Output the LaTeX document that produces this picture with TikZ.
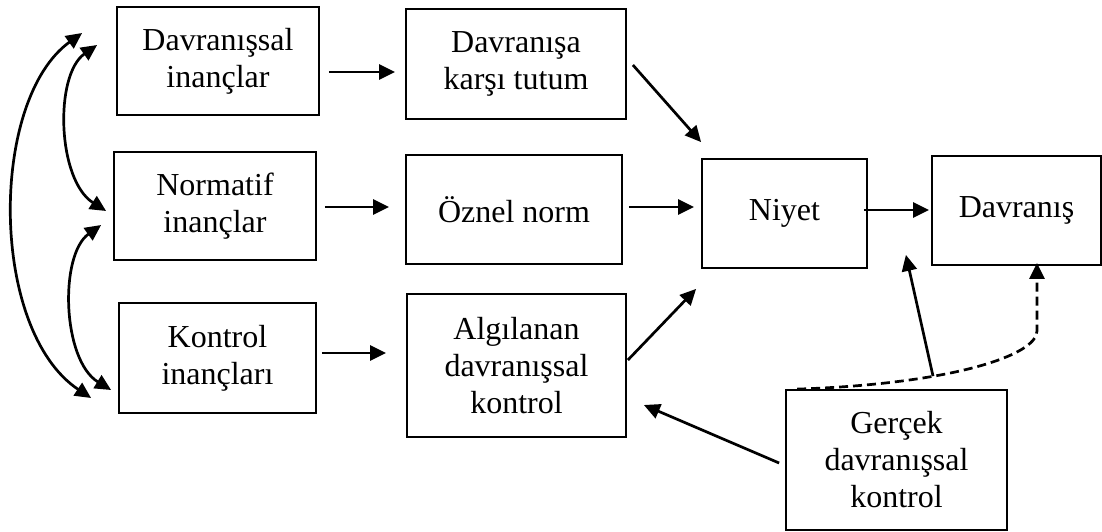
\documentclass[tikz,border=0pt]{standalone}
\usepackage{fontspec}
\setmainfont{Liberation Serif}
\usetikzlibrary{arrows.meta,calc}

\begin{document}
\begin{tikzpicture}[x=1pt, y=-1pt,
  box/.style={draw, line width=1.8pt, inner sep=0pt, align=center,
              font=\fontsize{32}{37}\selectfont},
  arr/.style={line width=2.7pt, -{Triangle[length=16pt,width=15pt]}},
  biarr/.style={line width=2.7pt,
                {Triangle[length=16pt,width=15pt]}-{Triangle[length=16pt,width=15pt]}},
  dasharr/.style={arr, dash pattern=on 9pt off 5pt}]

  \useasboundingbox (0,0) rectangle (1102,531);

  % belief boxes (left column)
  \node[box, minimum width=202pt, minimum height=108pt] (b1) at (218,61) {Davranışsal\\inançlar};
  \node[box, minimum width=202pt, minimum height=108pt] (n1) at (215,206) {Normatif\\inançlar};
  \node[box, minimum width=197pt, minimum height=110pt] (k1) at (217.5,358) {Kontrol\\inançları};

  % derived constructs (middle column)
  \node[box, minimum width=220pt, minimum height=110pt] (b2) at (516,64) {Davranışa\\karşı tutum};
  \node[box, minimum width=216pt, minimum height=109pt] (n2) at (514,209.5) {Öznel norm};
  \node[box, minimum width=219pt, minimum height=143pt] (k2) at (516.5,365.5) {Algılanan\\davranışsal\\kontrol};

  % intention, behaviour, actual control
  \node[box, minimum width=165pt, minimum height=109pt] (niyet) at (784.5,213.5) {Niyet};
  \node[box, minimum width=169pt, minimum height=109pt] (dav) at (1016.5,210.5) {Davranış};
  \node[box, minimum width=221pt, minimum height=140pt] (ger) at (896.5,460) {Gerçek\\davranışsal\\kontrol};

  % correlations between the belief sets
  \draw[biarr] ($(b1.west)+(-34,-28)$) .. controls +(-93,67) and +(-102,-68) .. ($(k1.west)+(-27,40)$);
  \draw[biarr] ($(b1.west)+(-19,-16)$) .. controls +(-43,30) and +(-49,-31) .. ($(n1.west)+(-7,5)$);
  \draw[biarr] ($(n1.west)+(-12,19)$) .. controls +(-42,30) and +(-49,-30) .. ($(k1.west)+(-7,32)$);

  % beliefs to constructs
  \draw[arr] ($(b1.east)+(9,11)$) -- ($(b2.west)+(-10,8)$);
  \draw[arr] ($(n1.east)+(8,1)$) -- ($(n2.west)+(-16,-2.5)$);
  \draw[arr] ($(k1.east)+(5,-5)$) -- ($(k2.west)+(-20,-12.5)$);

  % constructs to intention
  \draw[arr] ($(b2.east)+(6,1)$) -- ($(niyet.north west)+(0,-16)$);
  \draw[arr] ($(n2.east)+(6,-2.5)$) -- ($(niyet.west)+(-7,-6.5)$);
  \draw[arr] ($(k2.east)+(1,-5.5)$) -- ($(niyet.south west)+(-5,20)$);

  % intention to behaviour
  \draw[arr] ($(niyet.east)+(-4,-3.5)$) -- ($(dav.west)+(-2,-0.5)$);

  % actual behavioural control
  \draw[arr] ($(ger.west)+(-6,3)$) -- ($(k2.east)+(17,39.5)$);
  \draw[dasharr] ($(ger.north west)+(12,0)$) .. controls +(152,-5) and +(0,25) .. ($(dav.south)+(20.5,65)$) -- ($(dav.south)+(20.5,-3)$);
  \coordinate (moder) at ($(ger.north)+(36.5,-13)$);
  \draw[arr] (moder) -- ($(niyet.south east)+(38,-14)$);
\end{tikzpicture}
\end{document}
